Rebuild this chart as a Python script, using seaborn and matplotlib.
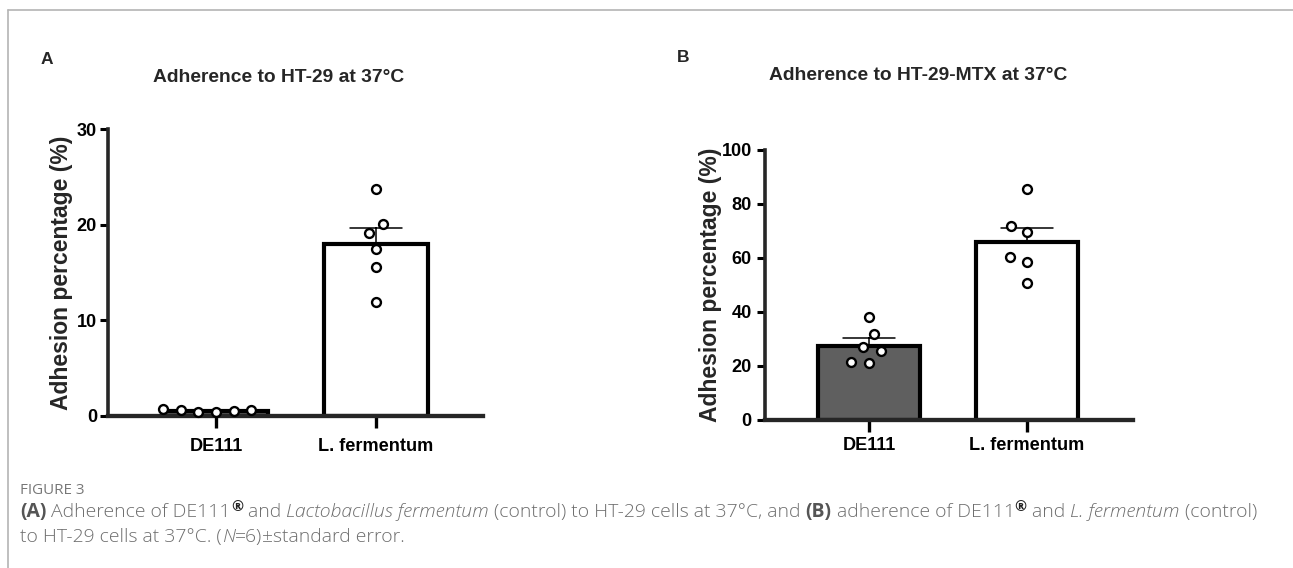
import numpy as np
import pandas as pd
import matplotlib
matplotlib.use("Agg")
import matplotlib.pyplot as plt
import seaborn as sns
from matplotlib import font_manager as fm
from matplotlib.lines import Line2D

# ---------------- data ----------------
categories = ["DE111", "L. fermentum"]
a_de111 = [0.45, 0.75, 0.55, 0.65, 0.40, 0.60]
a_lferm = [23.7, 20.1, 19.1, 17.5, 15.6, 11.9]
b_de111 = [38.2, 31.9, 25.6, 27.0, 21.1, 21.4]
b_lferm = [85.5, 71.9, 69.6, 60.5, 58.4, 50.6]
a_yticks = [0, 10, 20, 30]
b_yticks = [0, 20, 40, 60, 80, 100]
panel_labels = ["A", "B"]
titles = ["Adherence to HT-29 at 37°C", "Adherence to HT-29-MTX at 37°C"]
ylabel_text = "Adhesion percentage (%)"
bar_colors = {"DE111": "#5f5f5f", "L. fermentum": "#ffffff"}
caption_head = "FIGURE 3"

# ---------------- style ----------------
sns.set_theme(style="ticks")
plt.rcParams["font.family"] = ["Liberation Sans", "DejaVu Sans"]


def has_font(name):
    try:
        fm.findfont(fm.FontProperties(family=name), fallback_to_default=False)
        return True
    except Exception:
        return False


if has_font("Liberation Sans Narrow"):
    NARROW, NS = "Liberation Sans Narrow", 1.0
else:
    NARROW, NS = "Liberation Sans", 0.84
CAP_FONT = "Open Sans" if has_font("Open Sans") else "DejaVu Sans"

W, H = 1293, 568
fig = plt.figure(figsize=(W / 100, H / 100), dpi=100)
fig.patch.set_facecolor("white")

# border lines of the figure box
fig.add_artist(Line2D([8 / W, 1], [1 - 10 / H, 1 - 10 / H], color="#b4b4b4", lw=1.2))
fig.add_artist(Line2D([8 / W, 8 / W], [0, 1 - 10 / H], color="#b4b4b4", lw=1.2))

axA = fig.add_axes([108 / W, (H - 416) / H, 375 / W, 287 / H])
axB = fig.add_axes([765 / W, (H - 420) / H, 368 / W, 270 / H])

SWARM_LAYOUT_SIZE = 10.4
MARK_SIZE = 6.4
MARK_LW = 1.7


def panel(ax, v1, v2, xlim, ylim, yticks, ypad, xpad, ylab_x):
    df = pd.DataFrame({
        "group": [categories[0]] * len(v1) + [categories[1]] * len(v2),
        "value": list(v1) + list(v2),
    })
    sns.barplot(data=df, x="group", y="value", hue="group", order=categories,
                hue_order=categories, palette=bar_colors, saturation=1,
                errorbar="se", capsize=0.33, width=0.65, edgecolor="black",
                linewidth=3, legend=False,
                err_kws={"color": "black", "linewidth": 1.1, "zorder": 0.5}, ax=ax)
    sns.swarmplot(data=df, x="group", y="value", order=categories, color="white",
                  edgecolor="black", linewidth=MARK_LW, size=SWARM_LAYOUT_SIZE,
                  zorder=4, clip_on=False, ax=ax)
    ax.set_xlim(*xlim)
    ax.set_ylim(*ylim)
    ax.set_yticks(yticks)
    ax.set_xlabel("")
    ax.set_ylabel(ylabel_text, fontsize=16.5, fontweight="bold",
                  family="Liberation Sans", va="center")
    ax.yaxis.set_label_coords(ylab_x, 0.5)
    sns.despine(ax=ax)
    ax.spines["left"].set_linewidth(2.6)
    ax.spines["bottom"].set_linewidth(3.1)
    ax.tick_params(axis="y", length=6, width=2.2, pad=ypad, color="black")
    ax.tick_params(axis="x", length=8.5, width=2.4, pad=xpad, color="black")
    for lab in ax.get_xticklabels() + ax.get_yticklabels():
        lab.set_family(NARROW)
        lab.set_fontweight("bold")
        lab.set_fontsize(15.5 * NS)
        lab.set_color("black")
    ax.set_facecolor("white")


panel(axA, a_de111, a_lferm, (-0.675, 1.669), (0, 30), a_yticks, 2, 7, -0.123)
panel(axB, b_de111, b_lferm, (-0.658, 1.671), (0, 100), b_yticks, 3.5, 4, -0.149)

# panel letters and titles
fig.text(47 / W, 1 - 60 / H, panel_labels[0], ha="center", va="center",
         family="Liberation Sans", fontweight="bold", fontsize=12.5)
fig.text(683 / W, 1 - 58 / H, panel_labels[1], ha="center", va="center",
         family="Liberation Sans", fontweight="bold", fontsize=12.5)
fig.text(279 / W, 1 - 77 / H, titles[0], ha="center", va="center",
         family=NARROW, fontweight="bold", fontsize=16.5 * NS)
fig.text(918 / W, 1 - 75 / H, titles[1], ha="center", va="center",
         family=NARROW, fontweight="bold", fontsize=16.5 * NS)

# lay out the bee-swarms with a wider spacing, then freeze and shrink the markers
fig.canvas.draw()
for ax in (axA, axB):
    for coll in ax.collections:
        coll.__dict__.pop("draw", None)
        coll.set_sizes([MARK_SIZE ** 2])

# ---------------- caption ----------------
CAP_COLOR = "#6e6e6e"
renderer = fig.canvas.get_renderer()


def run_width(text, prop):
    w1, _, _ = renderer.get_text_width_height_descent("|" + text + "|", prop, ismath=False)
    w2, _, _ = renderer.get_text_width_height_descent("||", prop, ismath=False)
    return w1 - w2


def make_prop(style, size):
    return fm.FontProperties(family=CAP_FONT, size=size * style.get("scale", 1.0),
                             weight=style.get("weight", "light"),
                             style=style.get("style", "normal"))


def line_width(runs, size):
    return sum(run_width(t, make_prop(s, size)) for t, s in runs)


def draw_runs(runs, x0, base, size):
    x = x0
    for text, style in runs:
        prop = make_prop(style, size)
        fig.text(x / W, 1 - (base - style.get("dy", 0)) / H, text, fontproperties=prop,
                 color=style.get("color", CAP_COLOR), ha="left", va="baseline")
        x += run_width(text, prop)


B = {"weight": "bold", "color": "#555555"}
I = {"style": "italic"}
N = {}
SUP = {"weight": "bold", "color": "#222222", "scale": 0.75, "dy": 6}

line1 = [("(A)", B), (" Adherence of DE111", N), ("®", SUP), (" and ", N),
         ("Lactobacillus fermentum", I), (" (control) to HT-29 cells at 37°C, and ", N),
         ("(B)", B), (" adherence of DE111", N), ("®", SUP), (" and ", N),
         ("L. fermentum", I), (" (control)", N)]
line2 = [("to HT-29 cells at 37°C. (", N), ("N", I), ("=6)", N), ("±", N),
         ("standard error.", N)]

size0 = 11.0
cap_size = size0 * (1253 - 20) / line_width(line1, size0)

fig.text(20 / W, 1 - 494 / H, caption_head, family=CAP_FONT, fontsize=cap_size * 0.78,
         weight="normal", color="#777777", ha="left", va="baseline")
draw_runs(line1, 20, 517, cap_size)
draw_runs(line2, 20, 542, cap_size)

fig.savefig("out.png", dpi=100, facecolor="white")
